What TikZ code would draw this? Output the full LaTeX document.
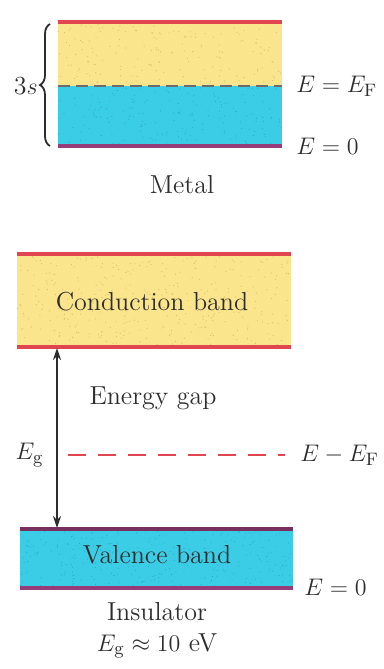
\documentclass[tikz,border=0pt]{standalone}
\usetikzlibrary{decorations.pathreplacing,arrows.meta}
\definecolor{bandyel}{RGB}{250,228,140}
\definecolor{bandcyan}{RGB}{60,205,230}
\definecolor{bandred}{RGB}{225,70,80}
\definecolor{bandpurp}{RGB}{150,60,120}
\definecolor{dotyel}{RGB}{215,190,110}
\definecolor{dotcyan}{RGB}{40,170,200}
\definecolor{inkc}{RGB}{45,45,45}
\begin{document}
\begin{tikzpicture}[x=0.5pt,y=-0.5pt,
  lbl/.style={font=\fontsize{13}{15}\selectfont,text=inkc,inner sep=0pt},
  edge/.style={line width=1.6pt},
  eq/.style={font=\fontsize{12.5}{15}\selectfont,text=inkc,inner sep=0pt,anchor=west}]
\useasboundingbox (0,0) rectangle (384,669);
\pgfmathsetseed{7}
% ---------- Metal ----------
\fill[bandyel] (58,22) rectangle (282,86);
\fill[bandcyan] (58,86) rectangle (282,146);
\foreach \i in {1,...,160}{
  \fill[dotyel] ({58+224*rnd},{24+60*rnd}) circle (0.6);
}
\foreach \i in {1,...,160}{
  \fill[dotcyan] ({58+224*rnd},{88+56*rnd}) circle (0.6);
}
\draw[edge,bandred] (58,22) -- (282,22);
\draw[line width=1.2pt,inkc!70,dash pattern=on 6pt off 3pt] (58,86) -- (282,86);
\draw[edge,bandpurp] (58,146) -- (282,146);
\draw[line width=0.9pt,inkc,decorate,decoration={brace,amplitude=5pt}] (50,146) -- (50,24);
\node[lbl,anchor=east] (ss) at (38,86) {3$s$};
\node[eq] (ef1) at (296,86) {$E = E_{\mathrm{F}}$};
\node[eq] (e01) at (296,146) {$E = 0$};
\node[lbl] (metal) at (182,185) {Metal};
% ---------- Insulator ----------
\fill[bandyel] (17,254) rectangle (291,347);
\fill[bandcyan] (20,529) rectangle (293,588);
\foreach \i in {1,...,320}{
  \fill[dotyel] ({17+274*rnd},{256+89*rnd}) circle (0.6);
}
\foreach \i in {1,...,260}{
  \fill[dotcyan] ({20+273*rnd},{531+55*rnd}) circle (0.6);
}
\draw[edge,bandred] (17,254) -- (291,254);
\draw[edge,bandred] (17,347) -- (291,347);
\draw[edge,bandpurp!80!black] (20,529) -- (293,529);
\draw[edge,bandpurp] (20,588) -- (293,588);
\node[lbl] (cb) at (152,302) {Conduction band};
\node[lbl] (vb) at (157,555) {Valence band};
\node[lbl] (gap) at (153,398) {Energy gap};
\coordinate (atop) at (57,348);
\coordinate (abot) at (57,528);
\draw[line width=0.9pt,inkc,{Stealth[length=6pt,width=4pt]}-{Stealth[length=6pt,width=4pt]}] (atop) -- (abot);
\node[lbl,anchor=east] (eg) at (44,455) {$E_{\mathrm{g}}$};
\draw[line width=1pt,bandred,dash pattern=on 9pt off 6pt] (68,455) -- (285,455);
\node[eq] (ef2) at (300,455) {$E - E_{\mathrm{F}}$};
\node[eq] (e02) at (304,587) {$E = 0$};
\node[lbl] (ins) at (157,612) {Insulator};
\node[lbl] (egv) at (157,646) {$E_{\mathrm{g}} \approx 10$ eV};
\end{tikzpicture}
\end{document}
